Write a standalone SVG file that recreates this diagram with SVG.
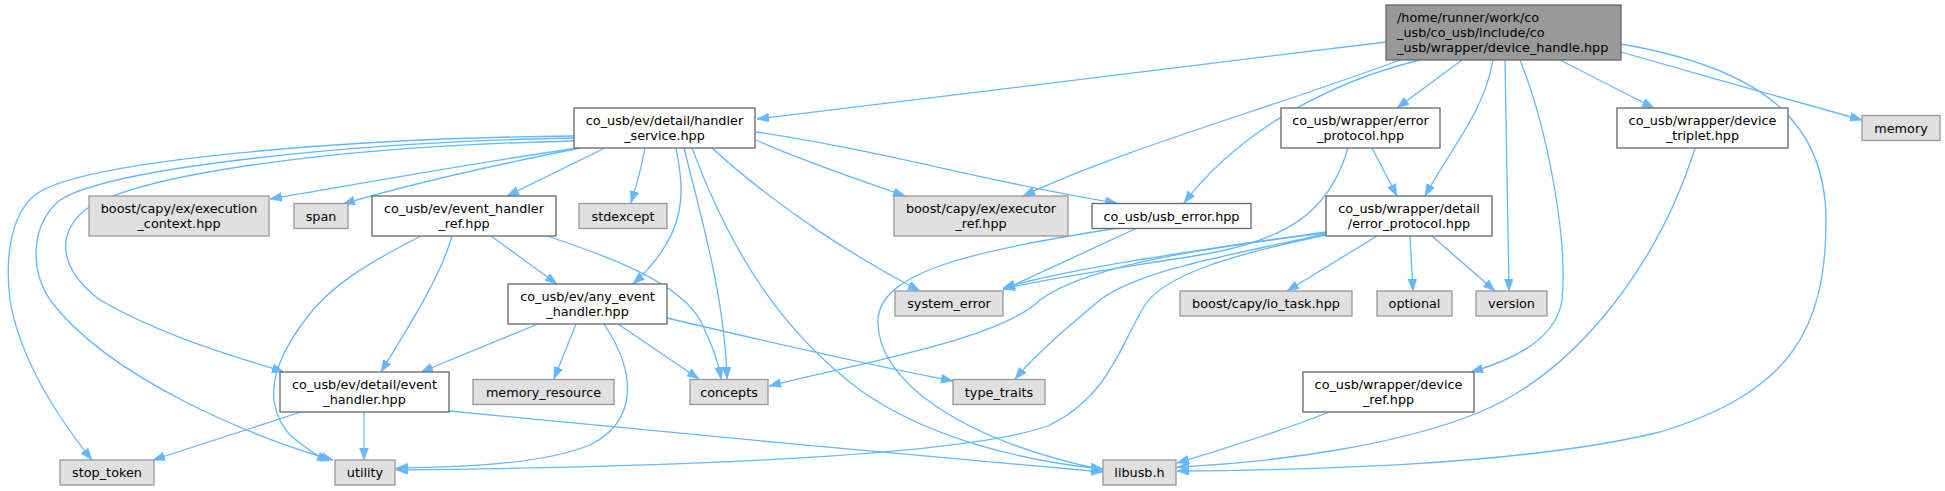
<svg xmlns="http://www.w3.org/2000/svg" width="1945" height="491" viewBox="0 0 1945 491">
<style>
.bg{fill:#ffffff}
.n rect{fill:#ffffff;stroke:#666666;stroke-width:1.3}
.x rect{fill:#e0e0e0;stroke:#999999;stroke-width:1.3}
.m rect{fill:#999999;stroke:#666666;stroke-width:1.3}
text{font-family:"DejaVu Sans","Liberation Sans",sans-serif;font-size:12.8px;fill:#000000;text-anchor:middle}
.e path{fill:none;stroke:#63b8ff;stroke-width:1.3;marker-end:url(#a)}
</style>
<defs>
<marker id="a" markerUnits="userSpaceOnUse" markerWidth="13" markerHeight="10" refX="12" refY="4.5" orient="auto">
<path d="M0,0 L12,4.5 L0,9 z" fill="#63b8ff" stroke="#63b8ff" stroke-width="0.5"/>
</marker>
</defs>
<rect class="bg" x="0" y="0" width="1945" height="491"/>
<g id="edges" class="e">
<!-- main -->
<path d="M1386,42 L757,119"/>
<path d="M1400,60 C1280,105 1120,150 1023,196"/>
<path d="M1420,60 C1330,82 1240,130 1184,203"/>
<path d="M1462,60 L1397,108"/>
<path d="M1493,60 C1485,110 1450,150 1425,196"/>
<path d="M1505,60 C1506,150 1508,220 1509,291"/>
<path d="M1520,60 C1548,130 1568,240 1562,300 C1556,340 1512,360 1471,372"/>
<path d="M1560,60 L1654,108"/>
<path d="M1621,52 C1700,75 1790,100 1862,120"/>
<path d="M1621,44 C1760,68 1826,120 1826,220 C1826,330 1790,392 1660,432 C1520,466 1300,470 1177,471"/>
<!-- handler_service -->
<path d="M578,148 C480,162 370,182 270,199"/>
<path d="M580,148 C480,168 400,187 343,204"/>
<path d="M605,148 L507,196"/>
<path d="M645,148 C640,175 635,190 631,203"/>
<path d="M676,148 C684,190 690,232 633,284"/>
<path d="M684,148 C702,220 725,300 727,379"/>
<path d="M712,148 C780,210 860,260 920,291"/>
<path d="M756,140 C800,160 860,180 905,196"/>
<path d="M756,132 C880,150 1000,185 1117,203"/>
<path d="M692,148 C730,250 780,330 860,390 C930,440 1030,462 1103,469"/>
<path d="M574,136 C350,138 80,160 35,195 C10,215 5,260 10,300 C20,360 60,420 92,460"/>
<path d="M574,138 C350,142 110,168 60,200 C30,225 30,270 50,300 C110,380 260,440 333,460"/>
<path d="M574,141 C350,146 140,172 85,210 C55,235 60,270 100,300 C160,335 230,355 284,372"/>
<!-- event_handler_ref -->
<path d="M491,236 L557,284"/>
<path d="M452,236 C440,280 400,340 381,372"/>
<path d="M421,236 C370,262 330,285 305,320 C275,360 260,400 290,435 C305,448 315,455 329,461"/>
<path d="M547,236 C620,260 680,285 700,320 C712,345 718,360 721,379"/>
<!-- any_event_handler -->
<path d="M538,324 L421,372"/>
<path d="M576,324 L554,379"/>
<path d="M604,324 C635,370 640,420 590,445 C540,465 460,467 396,468"/>
<path d="M618,324 L699,379"/>
<path d="M667,318 C760,340 870,365 953,381"/>
<!-- event_handler -->
<path d="M301,412 L153,460"/>
<path d="M364,412 L364,460"/>
<path d="M449,411 C650,430 900,455 1103,472"/>
<!-- usb_error -->
<path d="M1137,228 L1003,290"/>
<path d="M1118,228 C980,250 880,270 878,320 C876,380 960,440 1103,470"/>
<!-- wrapper/error_protocol -->
<path d="M1372,148 L1397,196"/>
<path d="M1348,148 C1330,210 1290,240 1200,255 C1120,268 1050,278 1003,289"/>
<!-- detail/error_protocol -->
<path d="M1326,232 C1200,250 1070,268 1003,288"/>
<path d="M1326,233 C1180,250 1080,270 1040,300 C1000,340 850,365 769,386"/>
<path d="M1326,234 C1230,255 1140,270 1100,300 C1070,325 1040,350 1015,379"/>
<path d="M1326,235 C1230,255 1165,275 1145,305 C1120,345 1110,395 1050,425 C960,460 600,468 396,470"/>
<path d="M1377,236 L1287,291"/>
<path d="M1410,236 L1413,291"/>
<path d="M1432,236 L1495,291"/>
<!-- device_triplet / device_ref -->
<path d="M1695,148 C1660,260 1580,370 1480,412 C1400,445 1280,462 1177,467"/>
<path d="M1329,412 C1280,432 1220,450 1177,463"/>
</g>
<g id="main" class="m"><rect x="1386" y="5" width="235" height="55"/>
<text x="1397" y="22" style="text-anchor:start">/home/runner/work/co</text>
<text x="1397" y="37" style="text-anchor:start">_usb/co_usb/include/co</text>
<text x="1397" y="52" style="text-anchor:start">_usb/wrapper/device_handle.hpp</text></g>
<g id="handler_service" class="n"><rect x="574" y="108" width="181" height="40"/>
<text x="664.5" y="125">co_usb/ev/detail/handler</text><text x="664.5" y="140">_service.hpp</text></g>
<g id="execution_context" class="x"><rect x="89" y="196" width="180" height="40"/>
<text x="179" y="213">boost/capy/ex/execution</text><text x="179" y="228">_context.hpp</text></g>
<g id="span" class="x"><rect x="294" y="203.5" width="54" height="25"/><text x="321" y="220.5">span</text></g>
<g id="event_handler_ref" class="n"><rect x="372" y="196" width="184" height="40"/>
<text x="464" y="213">co_usb/ev/event_handler</text><text x="464" y="228">_ref.hpp</text></g>
<g id="stdexcept" class="x"><rect x="579" y="203.5" width="88" height="25"/><text x="623" y="220.5">stdexcept</text></g>
<g id="executor_ref" class="x"><rect x="894" y="196" width="174" height="40"/>
<text x="981" y="213">boost/capy/ex/executor</text><text x="981" y="228">_ref.hpp</text></g>
<g id="usb_error" class="n"><rect x="1092" y="203.5" width="159" height="25"/><text x="1171.5" y="220.5">co_usb/usb_error.hpp</text></g>
<g id="wrapper_error_protocol" class="n"><rect x="1281" y="108" width="159" height="40"/>
<text x="1360.5" y="125">co_usb/wrapper/error</text><text x="1360.5" y="140">_protocol.hpp</text></g>
<g id="detail_error_protocol" class="n"><rect x="1326" y="196" width="166" height="40"/>
<text x="1409" y="213">co_usb/wrapper/detail</text><text x="1409" y="228">/error_protocol.hpp</text></g>
<g id="device_triplet" class="n"><rect x="1617" y="108" width="171" height="40"/>
<text x="1702.5" y="125">co_usb/wrapper/device</text><text x="1702.5" y="140">_triplet.hpp</text></g>
<g id="memory" class="x"><rect x="1862" y="115.5" width="78" height="25"/><text x="1901" y="132.5">memory</text></g>
<g id="any_event_handler" class="n"><rect x="508" y="284" width="159" height="40"/>
<text x="587.5" y="301">co_usb/ev/any_event</text><text x="587.5" y="316">_handler.hpp</text></g>
<g id="system_error" class="x"><rect x="895" y="291" width="108" height="25"/><text x="949" y="308">system_error</text></g>
<g id="io_task" class="x"><rect x="1180" y="291" width="172" height="25"/><text x="1266" y="308">boost/capy/io_task.hpp</text></g>
<g id="optional" class="x"><rect x="1377" y="291" width="75" height="25"/><text x="1414.5" y="308">optional</text></g>
<g id="version" class="x"><rect x="1476" y="291" width="71" height="25"/><text x="1511.5" y="308">version</text></g>
<g id="event_handler" class="n"><rect x="280" y="372" width="169" height="40"/>
<text x="364.5" y="389">co_usb/ev/detail/event</text><text x="364.5" y="404">_handler.hpp</text></g>
<g id="memory_resource" class="x"><rect x="473" y="379.5" width="141" height="25"/><text x="543.5" y="396.5">memory_resource</text></g>
<g id="concepts" class="x"><rect x="690" y="379.5" width="78" height="25"/><text x="729" y="396.5">concepts</text></g>
<g id="type_traits" class="x"><rect x="953" y="379.5" width="92" height="25"/><text x="999" y="396.5">type_traits</text></g>
<g id="device_ref" class="n"><rect x="1303" y="372" width="171" height="40"/>
<text x="1388.5" y="389">co_usb/wrapper/device</text><text x="1388.5" y="404">_ref.hpp</text></g>
<g id="stop_token" class="x"><rect x="60" y="460" width="94" height="25"/><text x="107" y="477">stop_token</text></g>
<g id="utility" class="x"><rect x="335" y="460" width="60" height="25"/><text x="365" y="477">utility</text></g>
<g id="libusb" class="x"><rect x="1103" y="460" width="73" height="25"/><text x="1139.5" y="477">libusb.h</text></g>
</svg>
